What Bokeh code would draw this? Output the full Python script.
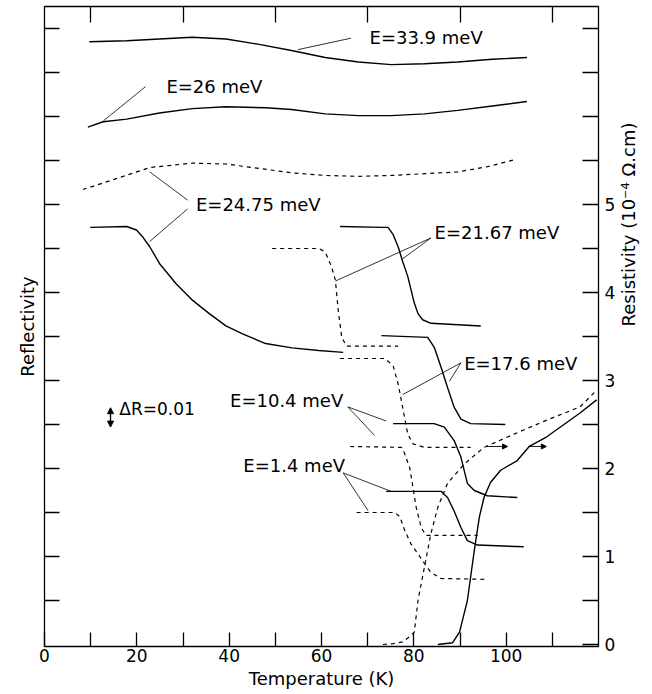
import math
from bokeh.plotting import figure
from bokeh.models import Range1d, LinearAxis, FixedTicker, Arrow, NormalHead
from bokeh.core.properties import value
from bokeh.embed import file_html
from bokeh.resources import INLINE

FONT = "DejaVu Sans"

# ---------------- data (temperature in K; y in plot units = right-axis resistivity scale) ----
# reflectivity curves (offset, arbitrary units)
t_339 = [9.7, 17.8, 24.9, 32.0, 39.3, 46.5, 53.5, 60.8, 68.0, 75.1, 82.3, 89.5, 97.0, 104.5]
y_339 = [6.85, 6.86, 6.88, 6.90, 6.88, 6.82, 6.75, 6.67, 6.62, 6.59, 6.60, 6.62, 6.65, 6.67]

t_26 = [9.4, 12.7, 17.8, 24.9, 32.0, 39.3, 47.9, 53.5, 60.8, 68.0, 75.1, 82.3, 89.5, 97.0, 104.5]
y_26 = [5.88, 5.94, 5.97, 6.04, 6.09, 6.11, 6.10, 6.08, 6.03, 6.01, 6.01, 6.03, 6.07, 6.12, 6.17]

t_2475_d = [8.3, 14.2, 22.8, 32.0, 39.3, 46.5, 53.5, 60.8, 68.0, 75.1, 82.3, 89.5, 96.0, 101.9]
y_2475_d = [5.17, 5.27, 5.42, 5.47, 5.46, 5.41, 5.36, 5.33, 5.32, 5.33, 5.35, 5.37, 5.43, 5.51]

t_2475_s = [9.9, 17.8, 19.9, 21.3, 22.8, 24.9, 28.5, 32.1, 35.7, 39.3, 42.9, 47.9, 53.6, 59.4, 64.7]
y_2475_s = [4.74, 4.75, 4.71, 4.63, 4.52, 4.33, 4.10, 3.91, 3.76, 3.62, 3.53, 3.42, 3.37, 3.34, 3.32]

t_2167_d = [49.3, 59.4, 60.8, 62.2, 63.0, 63.7, 64.4, 65.4, 68.0, 76.6]
y_2167_d = [4.50, 4.50, 4.46, 4.29, 4.14, 3.76, 3.49, 3.39, 3.39, 3.39]

t_2167_s = [64.0, 73.3, 74.4, 75.5, 76.6, 77.6, 78.7, 80.1, 80.9, 81.9, 83.7, 94.5]
y_2167_s = [4.75, 4.74, 4.74, 4.66, 4.52, 4.35, 4.18, 3.88, 3.76, 3.69, 3.65, 3.62]

t_176_d = [64.0, 73.7, 75.5, 76.6, 77.3, 78.0, 78.7, 79.8, 82.3, 92.3]
y_176_d = [3.25, 3.25, 3.17, 2.96, 2.77, 2.58, 2.39, 2.28, 2.24, 2.24]

t_176_s = [73.0, 83.0, 84.4, 85.9, 87.3, 88.7, 90.2, 92.3, 99.8]
y_176_s = [3.51, 3.49, 3.38, 3.15, 2.92, 2.70, 2.56, 2.51, 2.50]

t_104_s = [75.5, 84.4, 86.6, 88.7, 90.2, 91.6, 93.1, 95.9, 102.4]
y_104_s = [2.51, 2.51, 2.47, 2.32, 2.13, 1.83, 1.75, 1.69, 1.67]

t_104_d = [66.2, 77.3, 78.0, 79.1, 79.8, 80.5, 81.6, 82.6, 93.8]
y_104_d = [2.25, 2.24, 2.17, 2.01, 1.79, 1.56, 1.33, 1.24, 1.24]

t_14_s = [74.0, 85.9, 87.3, 88.7, 90.2, 91.6, 93.8, 103.8]
y_14_s = [1.74, 1.74, 1.67, 1.52, 1.33, 1.18, 1.13, 1.11]

t_14_d = [67.6, 75.9, 77.0, 78.0, 79.4, 80.9, 82.3, 83.7, 85.9, 95.5]
y_14_d = [1.50, 1.50, 1.45, 1.30, 1.14, 1.03, 0.92, 0.82, 0.75, 0.74]

# resistivity (10^-4 ohm.cm)
t_rho_d = [73.3, 75.5, 77.6, 79.1, 80.1, 80.9, 82.3, 83.7, 85.2, 87.3, 90.9, 95.2, 101.7, 108.8, 116.0, 119.6]
y_rho_d = [0.0, 0.01, 0.03, 0.09, 0.14, 0.50, 0.88, 1.26, 1.56, 1.83, 2.05, 2.24, 2.39, 2.55, 2.70, 2.89]

t_rho_s = [85.2, 88.4, 89.9, 90.8, 91.6, 93.1, 94.2, 95.2, 96.6, 98.8, 102.4, 105.0, 108.8, 116.0, 119.6]
y_rho_s = [0.0, 0.02, 0.14, 0.33, 0.50, 1.07, 1.45, 1.67, 1.84, 1.98, 2.09, 2.25, 2.36, 2.63, 2.78]

# curve labels
label_text = ["E=33.9 meV", "E=26 meV", "E=24.75 meV", "E=21.67 meV",
              "E=17.6 meV", "E=10.4 meV", "E=1.4 meV"]
label_t = [70.4, 26.4, 32.8, 84.5, 90.9, 64.7, 65.1]
label_y = [6.90, 6.34, 5.00, 4.68, 3.19, 2.77, 2.03]
label_align = ["left", "left", "left", "left", "left", "right", "right"]

# leader lines (label anchor -> curve)
lead_t0 = [66.4, 21.9, 31.0, 31.0, 83.7, 83.7, 90.2, 90.2, 65.7, 65.7, 64.7, 64.7]
lead_y0 = [6.89, 6.34, 5.05, 4.95, 4.62, 4.62, 3.20, 3.20, 2.70, 2.70, 1.95, 1.95]
lead_t1 = [54.9, 12.75, 22.8, 22.8, 63.0, 77.5, 77.6, 87.7, 74.0, 71.5, 75.1, 70.1]
lead_y1 = [6.76, 5.95, 5.37, 4.58, 4.13, 4.38, 2.84, 2.99, 2.54, 2.375, 1.74, 1.52]

# arrows pointing resistivity curves to the right axis
rarrow_t0 = [95.6, 104.9]
rarrow_t1 = [100.3, 108.7]
rarrow_y = [2.25, 2.25]

# scale bar  dR = 0.01
dr_t = 14.3
dr_y0 = 2.47
dr_y1 = 2.69
dr_text = "\u0394R=0.01"
dr_text_t = 16.2
dr_text_y = 2.68

x_major = [0, 20, 40, 60, 80, 100]
x_minor = [10, 30, 50, 70, 90, 110]
rho_major = [0, 1, 2, 3, 4, 5]
rho_minor = [0.5, 1.5, 2.5, 3.5, 4.5, 5.5, 6.0, 6.5, 7.0]
left_ticks = [0.5, 1.0, 1.5, 2.0, 2.5, 3.0, 3.5, 4.0, 4.5, 5.0, 5.5, 6.0, 6.5, 7.0]

x_title = "Temperature (K)"
left_title = "Reflectivity"
right_title = "Resistivity (10\u207b\u2074 \u03a9.cm)"

# ---------------- figure ----------------
p = figure(width=652, height=694, x_range=Range1d(0, 120), y_range=Range1d(-0.023, 7.25),
           output_backend="svg", toolbar_location=None,
           min_border_left=44, min_border_right=50, min_border_top=6, min_border_bottom=48)
p.grid.visible = False
p.outline_line_color = "black"
p.outline_line_width = 1.3
p.background_fill_color = "white"
p.border_fill_color = "white"

def style_axis(ax, tick_len):
    ax.axis_line_color = None
    ax.major_tick_in = tick_len
    ax.major_tick_out = 0
    ax.minor_tick_in = tick_len
    ax.minor_tick_out = 0
    ax.major_tick_line_width = 1.3
    ax.minor_tick_line_width = 1.3
    ax.major_label_text_font = FONT
    ax.major_label_text_font_size = "17px"
    ax.major_label_text_color = "black"
    ax.axis_label_text_font = FONT
    ax.axis_label_text_font_size = "18px"
    ax.axis_label_text_font_style = "normal"
    ax.axis_label_text_color = "black"

xa = p.xaxis[0]
xa.ticker = FixedTicker(ticks=x_major, minor_ticks=x_minor)
style_axis(xa, 14)
xa.major_label_standoff = 2
xa.axis_label = x_title
xa.axis_label_standoff = 3

top = LinearAxis(ticker=FixedTicker(ticks=[], minor_ticks=x_minor))
style_axis(top, 16)
top.major_label_standoff = 0
p.add_layout(top, "above")

ya = p.yaxis[0]
ya.ticker = FixedTicker(ticks=[], minor_ticks=left_ticks)
style_axis(ya, 15)
ya.major_label_standoff = 0
ya.axis_label = left_title
ya.axis_label_standoff = 7

ra = LinearAxis(ticker=FixedTicker(ticks=rho_major, minor_ticks=rho_minor))
style_axis(ra, 16)
ra.major_label_standoff = 6
ra.axis_label = right_title
ra.axis_label_standoff = 10
ra.axis_label_orientation = math.pi / 2
p.add_layout(ra, "right")

# curves
solid = [(t_339, y_339), (t_26, y_26), (t_2475_s, y_2475_s), (t_2167_s, y_2167_s),
         (t_176_s, y_176_s), (t_104_s, y_104_s), (t_14_s, y_14_s), (t_rho_s, y_rho_s)]
dashed = [(t_2475_d, y_2475_d), (t_2167_d, y_2167_d), (t_176_d, y_176_d),
          (t_104_d, y_104_d), (t_14_d, y_14_d), (t_rho_d, y_rho_d)]
for xs, ys in solid:
    p.line(xs, ys, line_color="black", line_width=1.4)
for xs, ys in dashed:
    p.line(xs, ys, line_color="black", line_width=1.2, line_dash="4 4")

# leader lines
p.segment(x0=lead_t0, y0=lead_y0, x1=lead_t1, y1=lead_y1, line_color="black", line_width=0.8)

# labels
for txt, tx, ty, al in zip(label_text, label_t, label_y, label_align):
    p.text(x=[tx], y=[ty], text=[txt], text_font=value(FONT), text_font_size="18px",
           text_align=al, text_baseline="middle", text_color="black")

p.text(x=[dr_text_t], y=[dr_text_y], text=[dr_text], text_font=value(FONT), text_font_size="17px",
       text_align="left", text_baseline="middle", text_color="black")
p.add_layout(Arrow(start=NormalHead(size=6, fill_color="black", line_color="black"),
                   end=NormalHead(size=6, fill_color="black", line_color="black"),
                   x_start=dr_t, y_start=dr_y0, x_end=dr_t, y_end=dr_y1,
                   line_color="black", line_width=1.3))

for a0, a1, ay in zip(rarrow_t0, rarrow_t1, rarrow_y):
    p.add_layout(Arrow(end=NormalHead(size=5, fill_color="black", line_color="black"),
                       x_start=a0, y_start=ay, x_end=a1, y_end=ay,
                       line_color="black", line_width=0.9))

open("out.html", "w").write(file_html(p, INLINE))
